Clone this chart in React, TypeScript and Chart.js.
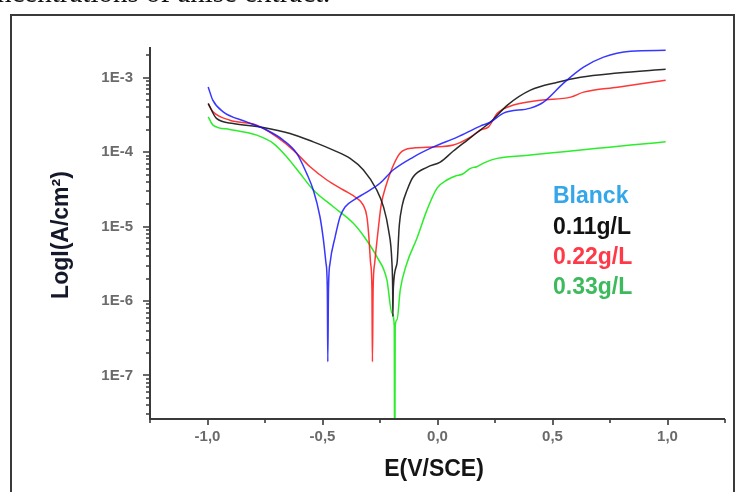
import React, { useEffect, useRef } from 'react';
import { Chart, registerables } from 'chart.js';

Chart.register(...registerables);

// ---- data (E in V/SCE, I in A/cm²) ----
const SERIES_LABELS = ['Blanck', '0.11g/L', '0.22g/L', '0.33g/L'];
const SERIES_COLORS = ['rgba(20,20,255,0.85)', 'rgba(20,20,20,0.9)', 'rgba(255,20,20,0.85)', 'rgba(20,235,20,0.9)'];
const LABEL_COLORS = ['#34a6ea', '#111111', '#ff3a48', '#3dba5c'];

const BLANK_E = [-0.997, -0.977, -0.932, -0.830, -0.743, -0.671, -0.612, -0.569, -0.540, -0.511, -0.496, -0.485, -0.479, -0.477, -0.474, -0.467, -0.445, -0.424, -0.402, -0.358, -0.315, -0.249, -0.193, -0.105, -0.018, 0.086, 0.186, 0.230, 0.287, 0.404, 0.461, 0.548, 0.635, 0.722, 0.840, 0.992];
const BLANK_I = [7.56e-4, 5.02e-4, 3.50e-4, 2.56e-4, 1.99e-4, 1.46e-4, 9.67e-5, 5.21e-5, 3.11e-5, 1.36e-5, 6.63e-6, 3.26e-6, 1.41e-6, 1.53e-7, 1.41e-6, 3.26e-6, 7.3e-6, 1.35e-5, 1.84e-5, 2.35e-5, 2.83e-5, 3.86e-5, 5.77e-5, 8.63e-5, 1.18e-4, 1.60e-4, 2.25e-4, 2.54e-4, 3.36e-4, 3.92e-4, 4.72e-4, 8.49e-4, 1.39e-3, 1.90e-3, 2.28e-3, 2.35e-3];

const C011_E = [-0.997, -0.961, -0.888, -0.758, -0.641, -0.540, -0.453, -0.380, -0.322, -0.264, -0.235, -0.213, -0.198, -0.195, -0.194, -0.192, -0.176, -0.166, -0.153, -0.132, -0.106, -0.044, 0.012, 0.069, 0.130, 0.186, 0.230, 0.304, 0.404, 0.522, 0.622, 0.783, 0.992];
const C011_I = [4.53e-4, 2.85e-4, 2.44e-4, 2.16e-4, 1.79e-4, 1.38e-4, 1.07e-4, 8.28e-5, 5.77e-5, 3.11e-5, 1.85e-5, 9.03e-6, 3.23e-6, 1.5e-6, 6.2e-7, 1.5e-6, 3.23e-6, 1.05e-5, 1.95e-5, 3.11e-5, 4.65e-5, 6.32e-5, 7.38e-5, 1.04e-4, 1.46e-4, 1.99e-4, 2.54e-4, 4.31e-4, 6.84e-4, 8.75e-4, 1.02e-3, 1.16e-3, 1.31e-3];

const C022_E = [-0.997, -0.976, -0.903, -0.786, -0.699, -0.627, -0.554, -0.481, -0.409, -0.351, -0.323, -0.307, -0.299, -0.291, -0.285, -0.283, -0.280, -0.273, -0.258, -0.245, -0.223, -0.197, -0.162, -0.105, -0.018, 0.069, 0.143, 0.186, 0.221, 0.261, 0.330, 0.448, 0.579, 0.635, 0.783, 0.992];
const C022_I = [4.44e-4, 3.50e-4, 2.70e-4, 2.32e-4, 1.61e-4, 1.07e-4, 6.38e-5, 4.24e-5, 3.11e-5, 2.41e-5, 1.95e-5, 1.36e-5, 7.74e-6, 3.26e-6, 1.41e-6, 1.53e-7, 1.41e-6, 3.26e-6, 9.03e-6, 1.95e-5, 3.63e-5, 6.14e-5, 9.75e-5, 1.14e-4, 1.18e-4, 1.25e-4, 1.60e-4, 1.99e-4, 2.18e-4, 3.36e-4, 4.31e-4, 5.02e-4, 5.51e-4, 6.43e-4, 7.50e-4, 9.31e-4];

const C033_E = [-0.997, -0.976, -0.903, -0.786, -0.714, -0.656, -0.598, -0.540, -0.453, -0.366, -0.315, -0.264, -0.220, -0.198, -0.188, -0.186, -0.184, -0.176, -0.162, -0.133, -0.089, -0.046, -0.002, 0.041, 0.078, 0.110, 0.143, 0.170, 0.200, 0.259, 0.404, 0.549, 0.695, 0.840, 0.992];
const C033_I = [3.00e-4, 2.32e-4, 2.03e-4, 1.70e-4, 1.32e-4, 8.71e-5, 5.21e-5, 3.11e-5, 1.85e-5, 1.11e-5, 7.05e-6, 3.95e-6, 1.93e-6, 6.89e-7, 4.55e-7, 1e-9, 4.55e-7, 5.60e-7, 1.41e-6, 3.23e-6, 7.05e-6, 1.67e-5, 3.30e-5, 4.24e-5, 4.80e-5, 5.10e-5, 6.08e-5, 6.40e-5, 7.16e-5, 8.28e-5, 9.16e-5, 1.02e-4, 1.13e-4, 1.25e-4, 1.38e-4];

const SERIES_E = [BLANK_E, C011_E, C022_E, C033_E];
const SERIES_I = [BLANK_I, C011_I, C022_I, C033_I];

const X_MIN = -1.25;
const X_MAX = 1.25;
const X_TICKS = [-1, -0.5, 0, 0.5, 1];
const X_TICK_LABELS = ['-1,0', '-0,5', '0,0', '0,5', '1,0'];
const X_MINOR = [-1.25, -0.75, -0.25, 0.25, 0.75, 1.25];

const Y_MIN = 2.6e-8;
const Y_MAX = 2.6e-3;
const Y_TICKS = [1e-7, 1e-6, 1e-5, 1e-4, 1e-3];
const Y_TICK_LABELS = ['1E-7', '1E-6', '1E-5', '1E-4', '1E-3'];
const Y_DECADES = [-8, -7, -6, -5, -4, -3];
const Y_MINOR_MULT = [2, 3, 4, 5, 6, 7, 8, 9];

const X_TITLE = 'E(V/SCE)';
const Y_TITLE = 'LogI(A/cm²)';
const TOP_TEXT = 'ncentrations of anise extract.';

const SANS = '"Liberation Sans", Arial, sans-serif';

const decoPlugin = {
  id: 'deco',
  beforeDraw(chart: any) {
    const ctx = chart.ctx;
    ctx.save();
    ctx.strokeStyle = '#3a3a3a';
    ctx.lineWidth = 2;
    ctx.beginPath();
    ctx.moveTo(11, 520);
    ctx.lineTo(11, 15);
    ctx.lineTo(734, 15);
    ctx.lineTo(734, 520);
    ctx.stroke();
    ctx.restore();
  },
  afterDraw(chart: any) {
    const ctx = chart.ctx;
    const ca = chart.chartArea;
    const xs = chart.scales.x;
    const ys = chart.scales.y;
    ctx.save();
    ctx.strokeStyle = '#3a3a3a';
    ctx.lineWidth = 2;
    ctx.beginPath();
    ctx.moveTo(ca.left, ca.top);
    ctx.lineTo(ca.left, ca.bottom);
    ctx.lineTo(ca.right, ca.bottom);
    ctx.stroke();

    ctx.lineWidth = 1.6;
    ctx.beginPath();
    X_TICKS.forEach((v) => {
      const px = Math.round(xs.getPixelForValue(v));
      ctx.moveTo(px, ca.bottom);
      ctx.lineTo(px, ca.bottom + 6);
    });
    X_MINOR.forEach((v) => {
      const px = Math.round(xs.getPixelForValue(v));
      ctx.moveTo(px, ca.bottom);
      ctx.lineTo(px, ca.bottom + 4);
    });
    Y_TICKS.forEach((v) => {
      const py = Math.round(ys.getPixelForValue(v));
      ctx.moveTo(ca.left, py);
      ctx.lineTo(ca.left - 7, py);
    });
    Y_DECADES.forEach((d) => {
      Y_MINOR_MULT.forEach((m) => {
        const v = m * Math.pow(10, d);
        if (v < Y_MIN || v > Y_MAX) return;
        const py = Math.round(ys.getPixelForValue(v));
        ctx.moveTo(ca.left, py);
        ctx.lineTo(ca.left - 4, py);
      });
    });
    ctx.stroke();

    // axis titles
    ctx.fillStyle = '#151515';
    ctx.font = `bold 23px ${SANS}`;
    ctx.textAlign = 'center';
    ctx.textBaseline = 'alphabetic';
    ctx.fillText(X_TITLE, 434, 476);

    ctx.save();
    ctx.translate(68, 235);
    ctx.rotate(-Math.PI / 2);
    ctx.fillStyle = '#15182a';
    ctx.fillText(Y_TITLE, 0, 0);
    ctx.restore();

    // series labels
    ctx.textAlign = 'left';
    const baselines = [203, 234, 264, 294];
    SERIES_LABELS.forEach((t, i) => {
      ctx.fillStyle = LABEL_COLORS[i];
      ctx.fillText(t, 553, baselines[i]);
    });
    ctx.restore();
  },
};

export default function App() {
  const ref = useRef<HTMLCanvasElement | null>(null);

  useEffect(() => {
    if (!ref.current) return;
    const datasets = SERIES_LABELS.map((label, s) => ({
      label,
      data: SERIES_E[s].map((e, i) => ({ x: e, y: SERIES_I[s][i] })),
      borderColor: SERIES_COLORS[s],
      backgroundColor: SERIES_COLORS[s],
      borderWidth: 1.5,
      pointRadius: 0,
      fill: false,
      cubicInterpolationMode: 'monotone' as const,
    }));
    const tickFont = { family: SANS, size: 15, weight: 'bold' as const };
    const chart = new Chart(ref.current, {
      type: 'line',
      data: { datasets },
      options: {
        animation: false,
        responsive: false,
        devicePixelRatio: 1,
        parsing: false as any,
        layout: { padding: { left: 0, right: 15, top: 47, bottom: 0 } },
        plugins: { legend: { display: false }, tooltip: { enabled: false }, title: { display: false } },
        scales: {
          x: {
            type: 'linear',
            min: X_MIN,
            max: X_MAX,
            bounds: 'data',
            grid: { display: false, drawTicks: false },
            border: { display: false },
            ticks: {
              font: tickFont,
              color: '#6a6a6a',
              padding: 9,
              maxRotation: 0,
              autoSkip: false,
              callback: (v: any) => {
                const idx = X_TICKS.indexOf(Number(v));
                return idx >= 0 ? X_TICK_LABELS[idx] : '';
              },
            },
            afterBuildTicks: (scale: any) => {
              scale.ticks = X_TICKS.map((v) => ({ value: v }));
            },
            afterFit: (scale: any) => {
              scale.height = 73;
            },
          },
          y: {
            type: 'logarithmic',
            min: Y_MIN,
            max: Y_MAX,
            bounds: 'data',
            grid: { display: false, drawTicks: false },
            border: { display: false },
            ticks: {
              font: tickFont,
              color: '#6a6a6a',
              padding: 17,
              autoSkip: false,
              callback: (v: any) => {
                const idx = Y_TICKS.findIndex((t) => Math.abs(t - Number(v)) / t < 1e-6);
                return idx >= 0 ? Y_TICK_LABELS[idx] : '';
              },
            },
            afterBuildTicks: (scale: any) => {
              scale.ticks = Y_TICKS.map((v) => ({ value: v, major: true }));
            },
            afterFit: (scale: any) => {
              scale.width = 150;
            },
          },
        },
      } as any,
      plugins: [decoPlugin],
    });
    return () => chart.destroy();
  }, []);

  return (
    <div style={{ position: 'fixed', left: 0, top: 0, width: 740, height: 492, background: '#fff', overflow: 'hidden' }}>
      <canvas ref={ref} width={740} height={492} style={{ display: 'block', position: 'absolute', left: 0, top: 0 }} />
      <div
        style={{
          position: 'absolute',
          left: -3,
          top: -22,
          fontFamily: '"Liberation Serif", "Times New Roman", serif',
          fontSize: 29,
          lineHeight: '29px',
          whiteSpace: 'nowrap',
          color: '#111',
        }}
      >
        {TOP_TEXT}
      </div>
    </div>
  );
}
